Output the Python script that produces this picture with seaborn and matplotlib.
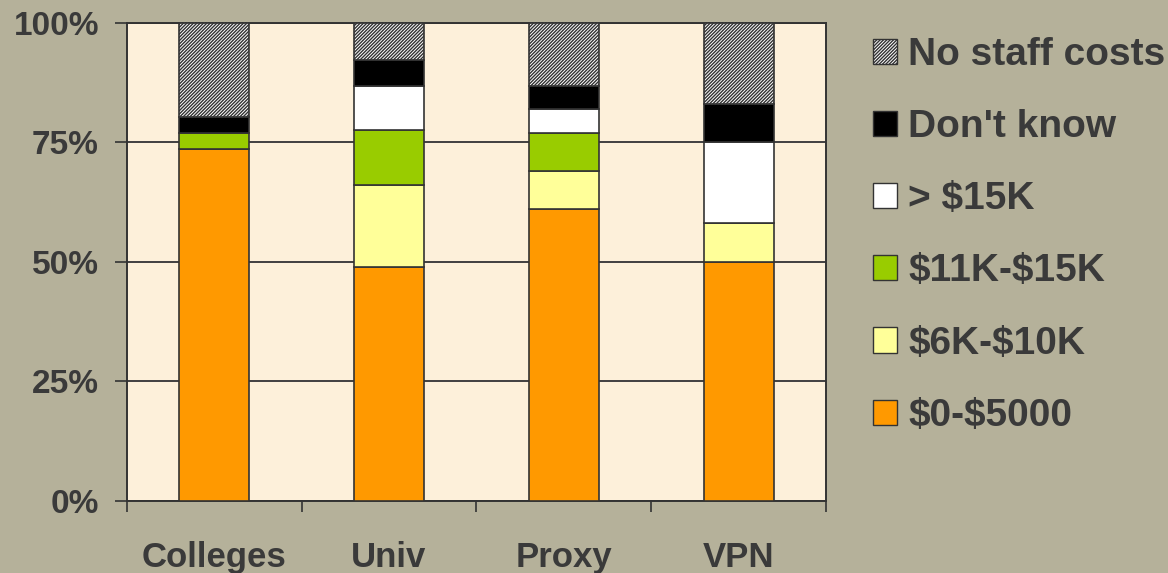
import matplotlib
matplotlib.use("Agg")
import matplotlib.pyplot as plt
import seaborn as sns
import numpy as np
import pandas as pd
from matplotlib.patches import Patch

categories = ["Colleges", "Univ", "Proxy", "VPN"]
series_names = ["\\$0-\\$5000", "\\$6K-\\$10K", "\\$11K-\\$15K", "> \\$15K",
                "Don't know", "No staff costs"]
s_0_5000 = [73.6, 48.9, 61.0, 50.0]
s_6k_10k = [0.0, 17.2, 7.9, 8.0]
s_11k_15k = [3.3, 11.5, 8.0, 0.0]
s_gt_15k = [0.0, 9.2, 5.0, 17.0]
s_dont_know = [3.3, 5.3, 4.9, 7.9]
s_no_staff = [19.8, 7.9, 13.2, 17.1]
y_ticks = [0, 25, 50, 75, 100]
y_tick_labels = ["0%", "25%", "50%", "75%", "100%"]

series_values = [s_0_5000, s_6k_10k, s_11k_15k, s_gt_15k, s_dont_know, s_no_staff]
colors = ["#FF9900", "#FFFF99", "#99CC00", "#FFFFFF", "#000000", "#FFFFFF"]
hatches = [None, None, None, None, None, "//////////"]

sns.set_theme(style="white")
plt.rcParams["font.family"] = ["Liberation Sans", "DejaVu Sans"]
plt.rcParams["hatch.linewidth"] = 1.0
plt.rcParams["hatch.color"] = "#333333"

TXT = "#3A3A3A"
EDGE = "#333333"

fig = plt.figure(figsize=(11.68, 5.73), dpi=100, facecolor="#B5B19A")
ax = fig.add_axes([0.1085, 0.1262, 0.7072 - 0.1085, 0.9604 - 0.1262])
ax.set_facecolor("#FDF0DA")

df = pd.DataFrame({"cat": categories})
bottom = np.zeros(len(categories))
handles = []
for name, vals, col, h in zip(series_names, series_values, colors, hatches):
    df["val"] = vals
    kw = {}
    if h:
        kw["hatch"] = h
    sns.barplot(data=df, x="cat", y="val", order=categories, color=col,
                saturation=1, width=0.4, errorbar=None, bottom=bottom,
                edgecolor=EDGE, linewidth=1.2, ax=ax, zorder=3, **kw)
    bottom = bottom + np.array(vals)
    handles.append(Patch(facecolor=col, edgecolor=EDGE, linewidth=1.0,
                         hatch=h, label=name))

ax.set_xlim(-0.5, len(categories) - 0.5)
ax.set_ylim(0, 100)
ax.set_yticks(y_ticks)
ax.set_yticklabels(y_tick_labels)
ax.yaxis.grid(True, color="#404040", linewidth=1.4, zorder=1)
ax.set_axisbelow(True)
ax.set_xlabel("")
ax.set_ylabel("")

for sp in ax.spines.values():
    sp.set_visible(True)
    sp.set_color(EDGE)
    sp.set_linewidth(1.4)

ax.tick_params(axis="y", which="major", direction="out", length=9, width=1.2,
               color=EDGE, pad=11, labelsize=24, labelcolor=TXT, left=True)
ax.set_xticks(np.arange(-0.5, len(categories), 1.0), minor=True)
ax.tick_params(axis="x", which="minor", direction="out", length=8, width=1.2,
               color=EDGE, bottom=True)
ax.tick_params(axis="x", which="major", length=0, pad=29, labelsize=25,
               labelcolor=TXT)
for lab in ax.get_xticklabels() + ax.get_yticklabels():
    lab.set_fontweight("bold")

leg = fig.legend(handles=handles[::-1], loc="upper left",
                 bbox_to_anchor=(873 / 1168, 1 - 37 / 573),
                 frameon=False, borderpad=0, borderaxespad=0,
                 handlelength=0.62, handleheight=0.62, handletextpad=0.28,
                 labelspacing=0.93,
                 prop={"size": 28, "weight": "bold"})
for t in leg.get_texts():
    t.set_color(TXT)

fig.savefig("out.png", dpi=100, facecolor=fig.get_facecolor())
